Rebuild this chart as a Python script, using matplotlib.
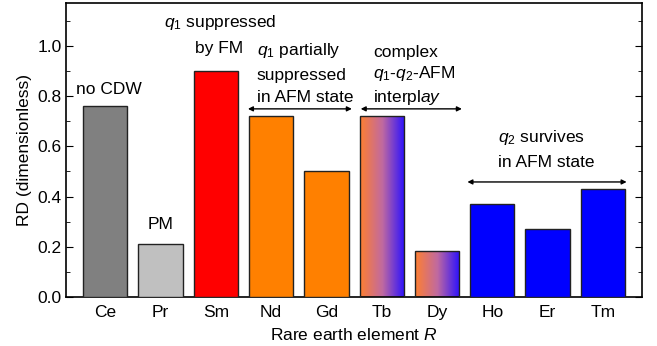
import numpy as np
import matplotlib.pyplot as plt
from matplotlib.colors import LinearSegmentedColormap

plt.rcParams['font.family'] = ['Liberation Sans', 'DejaVu Sans']
plt.rcParams['mathtext.fontset'] = 'custom'
plt.rcParams['mathtext.it'] = 'Liberation Sans:italic'
plt.rcParams['mathtext.rm'] = 'Liberation Sans'

elements = ['Ce', 'Pr', 'Sm', 'Nd', 'Gd', 'Tb', 'Dy', 'Ho', 'Er', 'Tm']
rd = [0.76, 0.21, 0.90, 0.72, 0.50, 0.72, 0.185, 0.37, 0.27, 0.43]
colors = ['#808080', '#c0c0c0', '#ff0000', '#ff8000', '#ff8000',
          None, None, '#0000ff', '#0000ff', '#0000ff']

fs = 12.5
fig = plt.figure(figsize=(6.57, 3.46), dpi=100)
ax = fig.add_axes([0.1005, 0.1416, 0.876, 0.8494])

x = np.arange(len(elements))
w = 0.8
grad = LinearSegmentedColormap.from_list('g', ['#ff8030', '#c06aa0', '#2a10ff'])
for i, (xi, v, c) in enumerate(zip(x, rd, colors)):
    if c is None:
        # Tb, Dy: orange-to-blue gradient fill
        bar = ax.bar(xi, v, width=w, color='none', edgecolor='#222222', lw=1.0, zorder=3)[0]
        im = ax.imshow(np.linspace(0, 1, 256).reshape(1, -1), cmap=grad, aspect='auto',
                       extent=[xi - w / 2, xi + w / 2, 0, v], zorder=2)
        im.set_clip_path(bar)
    else:
        ax.bar(xi, v, width=w, color=c, edgecolor='#222222', lw=1.0, zorder=3)

ax.set_xlim(-0.71, 9.7)
ax.set_ylim(0, 1.17)
ax.set_xticks(x)
ax.set_xticklabels(elements, fontsize=fs)
ax.set_yticks([0, 0.2, 0.4, 0.6, 0.8, 1.0])
ax.set_yticklabels(['0.0', '0.2', '0.4', '0.6', '0.8', '1.0'], fontsize=fs)
ax.set_yticks(np.arange(0.1, 1.15, 0.2), minor=True)
ax.tick_params(axis='x', length=0, pad=6)
ax.tick_params(axis='y', which='both', direction='in', right=True, pad=3)
ax.tick_params(axis='y', which='major', length=5)
ax.tick_params(axis='y', which='minor', length=3)
for s in ax.spines.values():
    s.set_linewidth(1.2)
ax.set_ylabel('RD (dimensionless)', fontsize=fs, labelpad=4)
ax.set_xlabel('Rare earth element $R$', fontsize=fs, labelpad=5)

# annotations
ax.text(0.06, 0.81, 'no CDW', ha='center', fontsize=fs)
ax.text(1.0, 0.27, 'PM', ha='center', fontsize=fs)
ax.text(2.07, 1.076, '$q_1$ suppressed', ha='center', fontsize=fs)
ax.text(2.05, 0.972, 'by FM', ha='center', fontsize=fs)
ax.text(2.74, 0.964, '$q_1$ partially', fontsize=fs)
ax.text(2.74, 0.865, 'suppressed', fontsize=fs)
ax.text(2.74, 0.777, 'in AFM state', fontsize=fs)
ax.text(4.84, 0.956, 'complex', fontsize=fs)
ax.text(4.84, 0.872, '$q_1$-$q_2$-AFM', fontsize=fs)
ax.text(4.84, 0.777, 'interpl$\\mathit{ay}$', fontsize=fs)
ax.text(7.1, 0.618, '$q_2$ survives', fontsize=fs)
ax.text(7.1, 0.518, 'in AFM state', fontsize=fs)

arrows = [(2.58, 4.46, 0.749), (4.62, 6.45, 0.749), (6.55, 9.43, 0.458)]
for x0, x1, y in arrows:
    ax.annotate('', xy=(x0, y), xytext=(x1, y),
                arrowprops=dict(arrowstyle='<|-|>', color='black', lw=1.0,
                                mutation_scale=7, shrinkA=0, shrinkB=0))

fig.savefig('out.png', dpi=100)
